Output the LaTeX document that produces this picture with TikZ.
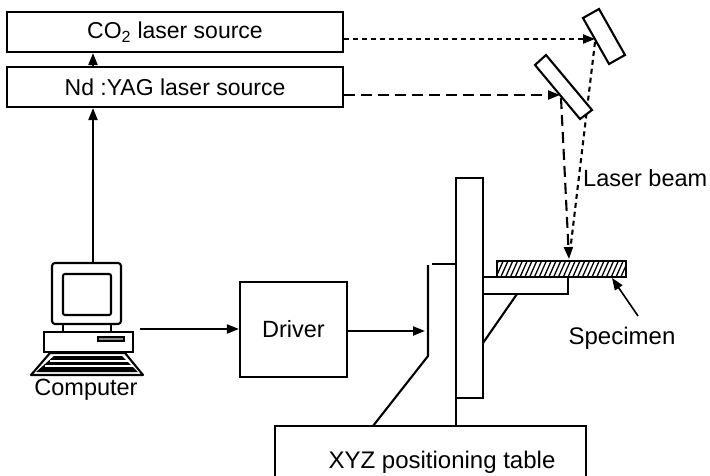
\documentclass[tikz,border=0pt]{standalone}
\usepackage{fontspec}
\setmainfont{Liberation Sans}
\usetikzlibrary{arrows.meta,calc}
\begin{document}
\begin{tikzpicture}[x=1pt,y=-1pt,
  lw/.style={line width=2.1pt},
  box/.style={lw,draw,rectangle,inner sep=0pt,font=\fontsize{23}{26}\selectfont},
  lbl/.style={inner sep=0pt,font=\fontsize{23.5}{26}\selectfont},
  arr/.style={lw,-{Triangle[length=12pt,width=9pt]}},
  co2beam/.style={lw,dash pattern=on 5pt off 4pt},
  yagbeam/.style={lw,dash pattern=on 11pt off 6pt},
  mirror/.style={lw,draw,fill=white,line join=miter}]
\useasboundingbox (0,0) rectangle (710,476);
\clip (0,0) rectangle (710,476);

% laser sources
\node[box,minimum width=336pt,minimum height=40pt] (co2) at (175,32) {CO\textsubscript{2} laser source};
\node[box,minimum width=336pt,minimum height=40pt] (yag) at (175,87) {Nd :YAG laser source};

% driver
\node[box,minimum width=107pt,minimum height=95pt,font=\fontsize{23.5}{26}\selectfont] (drv) at (293.5,329.5) {Driver};

% computer
\coordinate (ctop) at (93,263);
\coordinate (cout) at (140,329);
\draw[lw,rounded corners=3pt] (52,263) rectangle (121,324);
\draw[lw,rounded corners=2pt] (63,274) rectangle (111,315);
\draw[lw] (63,324) -- (63,332) (111,324) -- (111,332);
\draw[lw] (44,332) rectangle (133,352);
\draw[line width=1.2pt,fill=black!45] (98,337) rectangle (124,341);
\draw[lw,line join=round] (50,353) -- (125,353) -- (143,375) -- (31,375) -- cycle;
\fill (54,356) -- (122,356) -- (138,372) -- (36,372) -- cycle;
\draw[white,line width=1.3pt] (50,361) -- (128,361);
\draw[white,line width=1.1pt] (45,366) -- (133,366);
\node[lbl] (comp) at (86,390) {Computer};

% control connections
\draw[arr] (ctop) -- (ctop |- yag.south);
\draw[arr] (ctop |- yag.north) -- (ctop |- co2.south);
\draw[arr] (cout) -- (cout -| drv.west);
\coordinate (xin) at (425,331);
\draw[arr] (drv.east |- xin) -- (xin);

% XYZ positioning table
\node[lbl,font=\fontsize{24}{26}\selectfont] (table) at (442,462) {XYZ positioning table};
\draw[lw] (275,490) -- (275,426) -- (586,426) -- (586,490);

% frame and column
\draw[lw] (432,264) -- (456,264);
\draw[lw] (428,265) -- (428,356) -- (373,426);
\draw[lw] (456,178) rectangle (483,398);
\draw[lw] (456,398) -- (456,426);
% arm with brace
\draw[lw] (483,277) -- (568,277) -- (568,294) -- (483,294);
\draw[lw] (517,294) -- (483,343);

% specimen (hatched)
\begin{scope}
  \clip (497,261) rectangle (626,277);
  \foreach \x in {486,490.8,...,640} {
    \draw[line width=1.3pt] (\x,278) -- (\x+8,260);
  }
\end{scope}
\draw[lw] (497,261) rectangle (626,277);
\node[lbl,font=\fontsize{24}{26}\selectfont] (spec) at (622,338) {Specimen};
\coordinate (spectip) at (612,278);
\draw[arr,line width=1.6pt] (638,316) -- (spectip);

% laser beams
\coordinate (m1) at (595,39);
\coordinate (m2) at (560,95);
\coordinate (target) at (569,259);
\draw[co2beam,-{Triangle[length=12pt,width=9pt]}] (co2.east |- m1) -- (m1);
\draw[yagbeam,-{Triangle[length=12pt,width=9pt]}] (yag.east |- m2) -- (m2);
\draw[co2beam] (595,42) -- (570,252);
\draw[yagbeam,-{Triangle[length=12pt,width=9pt]}] (561,98) -- (target);
\node[lbl,anchor=west] (beam) at (583,178) {Laser beam};

% mirrors
\draw[mirror] (583,18) -- (599,9) -- (625,55) -- (609,64) -- cycle;
\draw[mirror] (535,65) -- (546,55) -- (592,110) -- (580,119) -- cycle;
\end{tikzpicture}
\end{document}
